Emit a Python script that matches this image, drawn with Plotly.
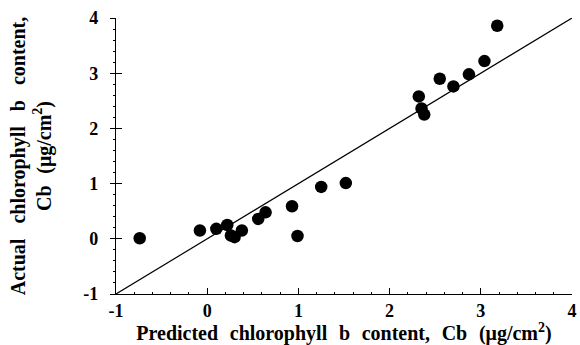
import plotly.graph_objects as go

# Data
predicted_cb = [-0.74, -0.08, 0.10, 0.22, 0.26, 0.30, 0.38, 0.56, 0.64, 0.93, 0.99,
                1.25, 1.52, 2.32, 2.35, 2.38, 2.55, 2.70, 2.87, 3.04, 3.18]
actual_cb = [0.01, 0.15, 0.18, 0.25, 0.06, 0.03, 0.15, 0.36, 0.48, 0.59, 0.05,
             0.94, 1.01, 2.58, 2.36, 2.25, 2.90, 2.76, 2.98, 3.22, 3.86]
line_x = [-1, 4]
line_y = [-1, 4]
tick_vals = [-1, 0, 1, 2, 3, 4]
tick_text = ["-1", "0", "1", "2", "3", "4"]

FONT = "Liberation Serif, Times New Roman, serif"
sp = "\u00a0\u00a0\u200a"
sp_y = "\u00a0\u00a0\u00a0"

def spaced(s, gap):
    return s.replace(" ", gap)

x_title = spaced("Predicted chlorophyll b content, Cb (μg/cm<sup>2</sup>)", sp)
y_title = spaced("Actual chlorophyll b content,", sp_y) + "<br>" + spaced("Cb (μg/cm<sup>2</sup>)", sp)

fig = go.Figure()
fig.add_trace(go.Scatter(x=line_x, y=line_y, mode="lines",
                         line=dict(color="black", width=1.2), showlegend=False,
                         hoverinfo="skip"))
fig.add_trace(go.Scatter(x=predicted_cb, y=actual_cb, mode="markers",
                         marker=dict(color="black", size=12.5), showlegend=False))

axis_common = dict(
    range=[-1, 4], tickvals=tick_vals, ticktext=tick_text,
    showgrid=False, zeroline=False, showline=True, linecolor="black", linewidth=1.2,
    tickcolor="black", tickwidth=1, ticklabeloverflow="allow",
    tickfont=dict(family=FONT, size=18, color="black", weight="bold"),
)

fig.update_layout(
    width=580, height=345,
    margin=dict(l=116, r=3, t=18, b=51),
    paper_bgcolor="white", plot_bgcolor="white",
    xaxis=dict(**axis_common, ticks="inside", ticklen=6,
               minor=dict(dtick=0.2, ticks="inside", ticklen=2, tickcolor="black"),
               title=dict(text=x_title, standoff=4,
                          font=dict(family=FONT, size=20, color="black", weight="bold"))),
    yaxis=dict(**axis_common, ticks="outside", ticklen=5, ticklabelstandoff=8,
               minor=dict(dtick=0.2, ticks="outside", ticklen=2, tickcolor="black"),
               title=dict(text=y_title, standoff=26,
                          font=dict(family=FONT, size=20, color="black", weight="bold"))),
    yaxis2=dict(range=[-1, 4], overlaying="y", tickvals=tick_vals, showticklabels=False,
                showgrid=False, zeroline=False, ticks="inside", ticklen=6,
                tickcolor="black", tickwidth=1, side="left", anchor="x"),
)
fig.add_trace(go.Scatter(x=[None], y=[None], yaxis="y2", showlegend=False))

fig.write_html("out.html")
